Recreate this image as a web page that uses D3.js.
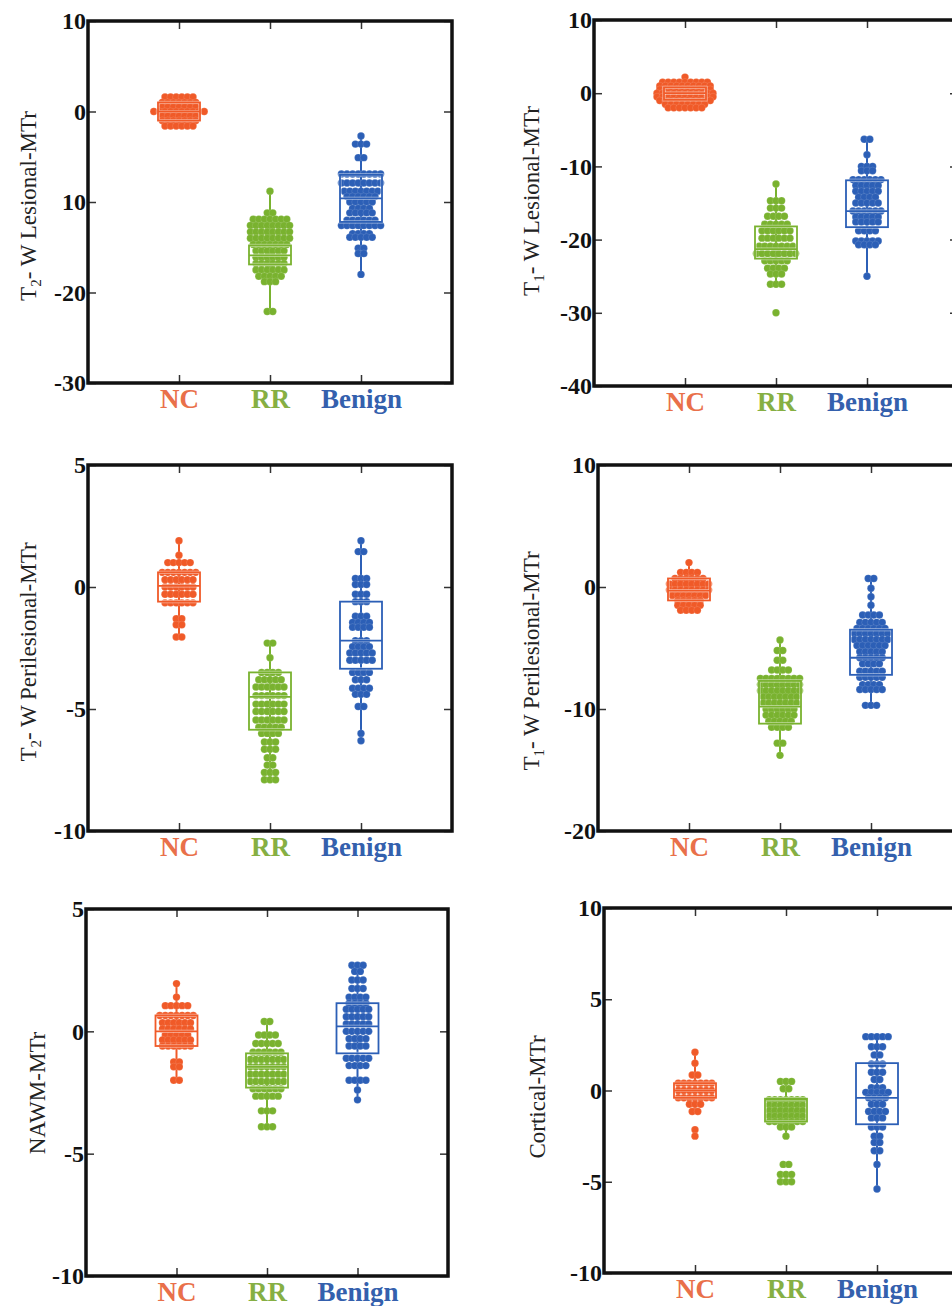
<!DOCTYPE html>
<html>
<head>
<meta charset="utf-8">
<script src="https://cdnjs.cloudflare.com/ajax/libs/d3/7.8.5/d3.min.js"></script>
<style>
  body { margin: 0; background: #fff; }
  svg { display: block; }
  text { font-family: "Liberation Serif", "Times New Roman", serif; }
</style>
</head>
<body>
<svg width="952" height="1306"></svg>
<script>

var groups = ["NC", "RR", "Benign"];
var colors = ["#f05a28", "#79b22f", "#2c5fb6"];
var labelColors = ["#e9704a", "#86af43", "#3460ad"];

// each group: rows of [value, number of dots in the row]
// box: [q3, median, q1, whisker top, whisker bottom] per group

// T2-W lesional
var t2LesNC = [[1.6,6],[1.0,7],[0.5,7],[0,10],[-0.5,7],[-1.0,7],[-1.6,6]];
var t2LesRR = [[-8.8,1],[-11.2,2],[-11.9,7],[-12.6,8],[-13.3,8],[-14.0,8],[-14.7,7],[-15.4,6],[-16.1,6],[-16.8,6],[-17.5,6],[-18.2,5],[-18.8,3],[-22.1,2]];
var t2LesBenign = [[-2.7,1],[-3.6,3],[-5.1,2],[-6.9,8],[-7.9,8],[-8.8,7],[-9.4,6],[-10.0,5],[-10.7,4],[-11.2,5],[-12.0,6],[-12.6,8],[-13.5,4],[-13.9,5],[-15.1,2],[-15.7,2],[-18.0,1]];
var t2LesBox = [[1.0, 0, -1.0, 1.6, -1.6], [-14.8, -15.9, -16.9, -8.8, -22.1], [-7.0, -9.6, -12.2, -2.7, -18.0]];
var t2LesTicks = [10, 0, -10, -20, -30];
var t2LesTickLabels = ["10", "0", "10", "-20", "-30"];

// T1-W lesional
var t1LesNC = [[2.2,1],[1.5,9],[1.0,10],[0.5,10],[0,11],[-0.5,11],[-1.0,10],[-1.5,8],[-2.0,7]];
var t1LesRR = [[-12.4,1],[-14.7,3],[-15.7,3],[-16.8,4],[-17.9,5],[-18.8,6],[-19.8,6],[-20.9,7],[-21.9,8],[-22.9,5],[-23.9,4],[-24.7,3],[-26.1,3],[-30.0,1]];
var t1LesBenign = [[-6.3,2],[-8.4,1],[-10.0,3],[-10.6,3],[-11.8,6],[-12.6,5],[-13.4,5],[-14.2,4],[-15.0,5],[-16.1,6],[-16.9,5],[-17.6,5],[-18.8,4],[-20.2,5],[-20.7,4],[-25.0,1]];
var t1LesBox = [[0.8, 0, -0.9, 2.2, -2.0], [-18.2, -21.3, -22.6, -12.4, -26.1], [-11.9, -16.1, -18.3, -6.3, -25.0]];
var t1LesTicks = [10, 0, -10, -20, -30, -40];
var t1LesTickLabels = ["10", "0", "-10", "-20", "-30", "-40"];

// T2-W perilesional
var t2PeriNC = [[1.9,1],[1.3,1],[1.0,5],[0.6,7],[0.3,6],[0.0,6],[-0.3,6],[-0.65,6],[-1.3,2],[-1.55,2],[-2.05,2]];
var t2PeriRR = [[-2.3,2],[-2.9,1],[-3.5,4],[-3.8,5],[-4.1,6],[-4.45,6],[-4.8,6],[-5.1,6],[-5.45,6],[-5.75,5],[-6.0,4],[-6.35,3],[-6.65,3],[-7.0,2],[-7.3,2],[-7.6,3],[-7.9,3]];
var t2PeriBenign = [[1.9,1],[1.45,2],[0.35,3],[0.1,3],[-0.3,3],[-0.6,3],[-1.2,3],[-1.45,4],[-1.65,4],[-2.2,3],[-2.45,4],[-2.7,5],[-3.0,5],[-3.5,4],[-3.8,3],[-4.15,4],[-4.4,3],[-4.9,2],[-6.0,1],[-6.3,1]];
var t2PeriBox = [[0.6, 0.05, -0.6, 1.9, -2.05], [-3.5, -4.5, -5.85, -2.3, -7.9], [-0.6, -2.2, -3.35, 1.9, -6.3]];
var t2PeriTicks = [5, 0, -5, -10];
var t2PeriTickLabels = ["5", "0", "-5", "-10"];

// T1-W perilesional
var t1PeriNC = [[2.0,1],[1.2,4],[0.7,6],[0.25,8],[-0.25,8],[-0.7,7],[-1.1,5],[-1.5,5],[-1.9,4]];
var t1PeriRR = [[-4.35,1],[-5.2,2],[-6.0,2],[-6.8,4],[-7.5,8],[-8.0,8],[-8.5,8],[-9.0,7],[-9.5,7],[-10.0,6],[-10.5,6],[-11.0,5],[-11.5,4],[-12.8,2],[-13.8,1]];
var t1PeriBenign = [[0.7,2],[-0.1,1],[-0.8,1],[-1.5,1],[-2.3,4],[-2.9,5],[-3.4,6],[-3.8,7],[-4.3,7],[-4.8,6],[-5.3,5],[-5.8,5],[-6.3,4],[-6.9,5],[-7.4,5],[-8.0,4],[-8.4,5],[-9.7,3]];
var t1PeriBox = [[0.7, -0.3, -1.1, 2.0, -1.9], [-7.7, -9.8, -11.2, -4.35, -13.8], [-3.5, -5.8, -7.2, 0.7, -9.7]];
var t1PeriTicks = [10, 0, -10, -20];
var t1PeriTickLabels = ["10", "0", "-10", "-20"];

// NAWM
var nawmNC = [[1.95,1],[1.4,1],[1.05,5],[0.65,7],[0.35,6],[0.1,6],[-0.15,5],[-0.35,6],[-0.6,6],[-1.25,2],[-1.45,2],[-2.0,2]];
var nawmRR = [[0.4,2],[-0.15,4],[-0.5,5],[-0.85,6],[-1.15,7],[-1.45,7],[-1.75,7],[-2.05,7],[-2.35,6],[-2.65,5],[-3.25,3],[-3.9,3]];
var nawmBenign = [[2.7,3],[2.45,2],[2.1,3],[1.75,3],[1.4,4],[1.15,4],[0.9,5],[0.6,5],[0.3,5],[0.0,5],[-0.3,4],[-0.6,4],[-1.1,5],[-1.4,4],[-2.0,4],[-2.4,1],[-2.8,1]];
var nawmBox = [[0.65, 0.0, -0.6, 1.95, -2.0], [-0.9, -1.45, -2.3, 0.4, -3.9], [1.15, 0.2, -0.9, 2.7, -2.8]];
var nawmTicks = [5, 0, -5, -10];
var nawmTickLabels = ["5", "0", "-5", "-10"];

// cortical
var cortNC = [[2.1,1],[1.5,1],[0.85,2],[0.4,7],[0.0,7],[-0.4,7],[-0.75,3],[-1.15,2],[-2.15,1],[-2.5,1]];
var cortRR = [[0.5,3],[0.1,2],[-0.5,7],[-0.8,7],[-1.1,7],[-1.4,7],[-1.7,7],[-2.0,3],[-2.5,1],[-4.05,2],[-4.6,3],[-5.0,3]];
var cortBenign = [[2.95,5],[2.4,3],[1.95,2],[1.45,3],[1.0,3],[0.6,2],[0.15,3],[-0.1,5],[-0.4,4],[-0.75,3],[-1.15,4],[-1.5,3],[-2.0,3],[-2.5,2],[-2.85,2],[-3.3,2],[-4.05,1],[-5.4,1]];
var cortBox = [[0.4, 0, -0.4, 2.1, -1.15], [-0.45, -0.5, -1.7, 0.5, -2.5], [1.5, -0.4, -1.85, 2.95, -5.4]];
var cortTicks = [10, 5, 0, -5, -10];
var cortTickLabels = ["10", "5", "0", "-5", "-10"];

var panels = [
  {title: ["T", "2", "- W Lesional-MTr"], dots: [t2LesNC, t2LesRR, t2LesBenign], box: t2LesBox, domain: [-30, 10], ticks: t2LesTicks, labels: t2LesTickLabels,
   left: 88, top: 21, w: 364, h: 362, tx: 28, ty: 206},
  {title: ["T", "1", "- W Lesional-MTr"], dots: [t1LesNC, t1LesRR, t1LesBenign], box: t1LesBox, domain: [-40, 10], ticks: t1LesTicks, labels: t1LesTickLabels,
   left: 594, top: 20, w: 364, h: 366, tx: 531, ty: 201},
  {title: ["T", "2", "- W Perilesional-MTr"], dots: [t2PeriNC, t2PeriRR, t2PeriBenign], box: t2PeriBox, domain: [-10, 5], ticks: t2PeriTicks, labels: t2PeriTickLabels,
   left: 88, top: 465, w: 364, h: 366, tx: 28, ty: 652},
  {title: ["T", "1", "- W Perilesional-MTr"], dots: [t1PeriNC, t1PeriRR, t1PeriBenign], box: t1PeriBox, domain: [-20, 10], ticks: t1PeriTicks, labels: t1PeriTickLabels,
   left: 598, top: 465, w: 364, h: 366, tx: 531, ty: 661},
  {title: ["NAWM-MTr"], dots: [nawmNC, nawmRR, nawmBenign], box: nawmBox, domain: [-10, 5], ticks: nawmTicks, labels: nawmTickLabels,
   left: 86, top: 909, w: 362, h: 367, tx: 37, ty: 1093},
  {title: ["Cortical-MTr"], dots: [cortNC, cortRR, cortBenign], box: cortBox, domain: [-10, 10], ticks: cortTicks, labels: cortTickLabels,
   left: 604, top: 908, w: 364, h: 365, tx: 537, ty: 1097}
];

var svg = d3.select("svg");
var boxW = 42, dotR = 3.7, dotStep = 5.6;

panels.forEach(function(p) {
  var g = svg.append("g").attr("transform", "translate(" + p.left + "," + p.top + ")");
  var x = d3.scalePoint().domain(groups).range([0, p.w]).padding(1);
  var y = d3.scaleLinear().domain(p.domain).range([p.h, 0]);

  // whiskers
  g.append("g").selectAll("line")
    .data(p.box)
    .enter().append("line")
      .attr("x1", function(d, i) { return x(groups[i]); })
      .attr("x2", function(d, i) { return x(groups[i]); })
      .attr("y1", function(d) { return y(d[3]); })
      .attr("y2", function(d) { return y(d[4]); })
      .attr("stroke", function(d, i) { return colors[i]; })
      .attr("stroke-width", 2);

  // dots, one row per value
  var pts = [];
  p.dots.forEach(function(rows, i) {
    rows.forEach(function(r) {
      for (var k = 0; k < r[1]; k++) {
        pts.push({g: i, v: r[0], off: (k - (r[1] - 1) / 2) * dotStep});
      }
    });
  });
  g.append("g").selectAll("circle")
    .data(pts)
    .enter().append("circle")
      .attr("cx", function(d) { return x(groups[d.g]) + d.off; })
      .attr("cy", function(d) { return y(d.v); })
      .attr("r", dotR)
      .attr("fill", function(d) { return colors[d.g]; })
      .attr("stroke", "#fff")
      .attr("stroke-opacity", 0.2)
      .attr("stroke-width", 0.6);

  // boxes: faint white casing then coloured line
  [["#fff", 3.2, 0.55], [null, 1.8, 1]].forEach(function(s) {
    var bg = g.append("g").selectAll("g")
      .data(p.box)
      .enter().append("g")
        .attr("fill", "none")
        .attr("stroke", function(d, i) { return s[0] || colors[i]; })
        .attr("stroke-opacity", s[2])
        .attr("stroke-width", s[1]);
    bg.append("rect")
      .attr("x", function(d, i) { return x(groups[i]) - boxW / 2; })
      .attr("y", function(d) { return y(d[0]); })
      .attr("width", boxW)
      .attr("height", function(d) { return y(d[2]) - y(d[0]); });
    bg.append("line")
      .attr("x1", function(d, i) { return x(groups[i]) - boxW / 2; })
      .attr("x2", function(d, i) { return x(groups[i]) + boxW / 2; })
      .attr("y1", function(d) { return y(d[1]); })
      .attr("y2", function(d) { return y(d[1]); });
  });

  // axes with inward ticks on all four sides
  g.append("g")
      .attr("class", "axis")
      .call(d3.axisLeft(y).tickValues(p.ticks).tickSizeInner(-8).tickSizeOuter(0).tickPadding(2)
        .tickFormat(function(d, i) { return p.labels[i]; }))
      .call(function(a) {
        a.select(".domain").remove();
        a.selectAll("text").attr("font-family", "Liberation Serif, serif").attr("font-size", 24)
          .attr("font-weight", "bold").attr("fill", "#111");
      });
  g.append("g")
      .attr("class", "axis")
      .attr("transform", "translate(" + p.w + ",0)")
      .call(d3.axisRight(y).tickValues(p.ticks).tickSizeInner(-8).tickSizeOuter(0).tickFormat(""))
      .call(function(a) { a.select(".domain").remove(); });
  g.append("g")
      .attr("class", "axis")
      .call(d3.axisTop(x).tickSizeInner(-8).tickSizeOuter(0).tickFormat(""))
      .call(function(a) { a.select(".domain").remove(); });
  g.append("g")
      .attr("class", "axis")
      .attr("transform", "translate(0," + p.h + ")")
      .call(d3.axisBottom(x).tickSizeInner(-8).tickSizeOuter(0).tickPadding(6))
      .call(function(a) {
        a.select(".domain").remove();
        a.selectAll("text").attr("font-family", "Liberation Serif, serif").attr("font-size", 27)
          .attr("font-weight", "bold").attr("fill", function(d, i) { return labelColors[i]; });
      });
  g.selectAll(".axis .tick line").attr("stroke", "#333").attr("stroke-width", 1.5);

  g.append("rect")
      .attr("width", p.w)
      .attr("height", p.h)
      .attr("fill", "none")
      .attr("stroke", "#111")
      .attr("stroke-width", 3.5);

  // y title
  var t = svg.append("text")
      .attr("transform", "translate(" + p.tx + "," + p.ty + ") rotate(-90)")
      .attr("text-anchor", "middle")
      .attr("dy", "0.35em")
      .attr("font-size", 23)
      .attr("fill", "#222");
  t.append("tspan").text(p.title[0]);
  if (p.title.length > 1) {
    t.append("tspan").attr("font-size", 15).attr("dy", 5).text(p.title[1]);
    t.append("tspan").attr("dy", -5).text(p.title[2]);
  }
});

</script>
</body>
</html>
